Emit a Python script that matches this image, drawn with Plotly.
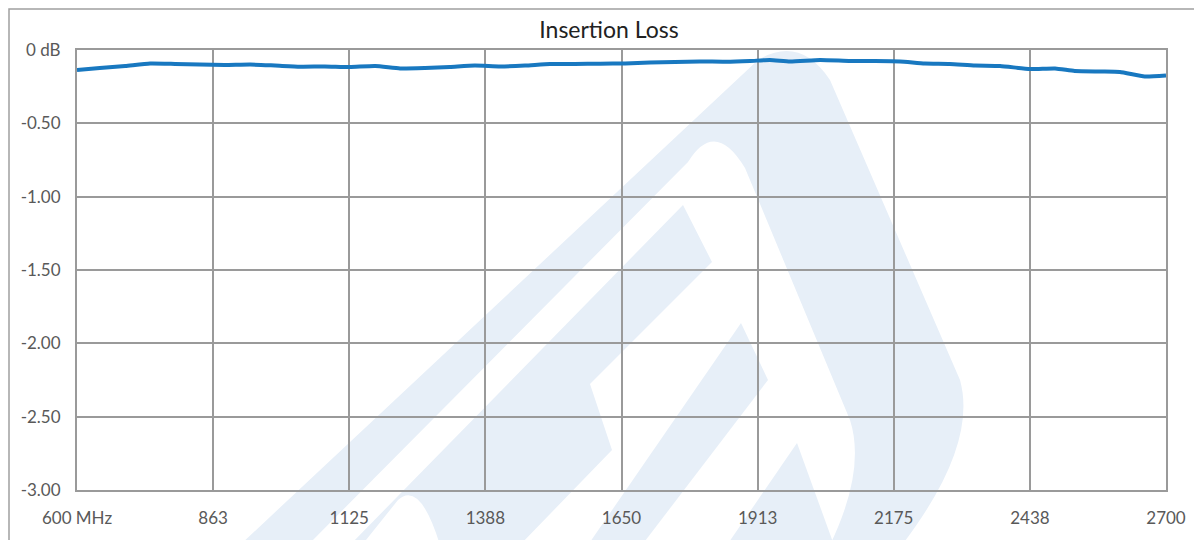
import plotly.graph_objects as go

freq_mhz = [600, 644, 693, 741, 789, 837, 885, 934, 982, 1030, 1078, 1126, 1175, 1223,
            1271, 1319, 1367, 1416, 1464, 1512, 1560, 1609, 1657, 1705, 1753, 1801, 1850,
            1898, 1936, 1975, 2033, 2091, 2139, 2187, 2235, 2283, 2332, 2380, 2438, 2486,
            2524, 2573, 2611, 2659, 2700]
loss_db = [-0.136, -0.123, -0.109, -0.092, -0.095, -0.099, -0.102, -0.099, -0.106, -0.114,
           -0.112, -0.116, -0.109, -0.126, -0.123, -0.116, -0.106, -0.112, -0.106, -0.095,
           -0.095, -0.093, -0.092, -0.085, -0.082, -0.078, -0.080, -0.075, -0.068, -0.078,
           -0.068, -0.075, -0.075, -0.078, -0.092, -0.095, -0.106, -0.109, -0.130, -0.126,
           -0.143, -0.147, -0.150, -0.181, -0.174]

x_tickvals = [600, 862.5, 1125, 1387.5, 1650, 1912.5, 2175, 2437.5, 2700]
x_ticktext = ["600 MHz", "863", "1125", "1388", "1650", "1913", "2175", "2438", "2700"]
y_tickvals = [0, -0.5, -1.0, -1.5, -2.0, -2.5, -3.0]
y_ticktext = ["0 dB", "-0.50", "-1.00", "-1.50", "-2.00", "-2.50", "-3.00"]

font_family = "Lato, 'Open Sans', sans-serif"
grid = "#9a9a9a"
wm_color = "#e7eff8"

# plot area in screen pixels (used only to place the decorative watermark)
PX0, PX1, PY0, PY1 = 77.0, 1166.0, 50.0, 490.0


def px_path(cmds):
    out = []
    for c in cmds:
        if isinstance(c, str):
            out.append(c)
        else:
            X, Y = c
            out.append(f"{(X - PX0) / (PX1 - PX0):.5f},{(PY1 - Y) / (PY1 - PY0):.5f}")
    return " ".join(out)


watermark_paths = [
    ["M", (240, 545), "L", (758, 60), "Q", (800, 35), (830, 80), "L", (960, 380),
     "Q", (978, 445), (902, 545), "L", (830, 545), "Q", (866, 470), (850, 420),
     "L", (745, 168), "Q", (715, 118), (688, 162), "L", (308, 545), "Z"],
    ["M", (683, 205), "L", (712, 262), "L", (590, 384), "L", (612, 450), "L", (520, 545),
     "L", (440, 545), "Q", (420, 480), (398, 500), "L", (362, 545), "L", (350, 545),
     "L", (683, 205), "Z"],
    ["M", (741, 323), "L", (768, 380), "L", (642, 545), "L", (588, 545), "Z"],
    ["M", (797, 443), "L", (834, 545), "L", (727, 545), "Z"],
]

shapes = []
for p in watermark_paths:
    shapes.append(dict(type="path", xref="paper", yref="paper", path=px_path(p),
                       fillcolor=wm_color, line=dict(width=0), layer="below"))
shapes.append(dict(type="rect", xref="paper", yref="paper",
                   x0=(1 - 69) / 1089, x1=1.08, y0=-0.3, y1=1 + 41 / 440,
                   line=dict(color="#a0a0a0", width=1.5), fillcolor="rgba(0,0,0,0)",
                   layer="below"))

fig = go.Figure()
fig.add_trace(go.Scatter(
    x=freq_mhz, y=loss_db, mode="lines",
    line=dict(color="#1878c0", width=4, shape="spline", smoothing=0.5),
    showlegend=False, hoverinfo="x+y"))

fig.update_layout(
    width=1202, height=540,
    margin=dict(l=69, r=44, t=42, b=58),
    paper_bgcolor="white", plot_bgcolor="white",
    font=dict(family=font_family, size=17, color="#595959"),
    title=dict(text="Insertion Loss", x=0.5, xanchor="center", y=0.959, yanchor="middle",
               font=dict(family=font_family, size=23, color="#222222")),
    xaxis=dict(range=[600, 2700], tickmode="array", tickvals=x_tickvals, ticktext=x_ticktext,
               showgrid=True, gridcolor=grid, gridwidth=2, zeroline=False,
               showline=True, linecolor=grid, linewidth=2, mirror=True,
               ticks="", ticklabelstandoff=12, automargin=False),
    yaxis=dict(range=[-3.0, 0], tickmode="array", tickvals=y_tickvals, ticktext=y_ticktext,
               showgrid=True, gridcolor=grid, gridwidth=2, zeroline=False,
               showline=True, linecolor=grid, linewidth=2, mirror=True,
               ticks="", ticklabelstandoff=11, automargin=False),
    shapes=shapes,
)

fig.write_html("out.html")
